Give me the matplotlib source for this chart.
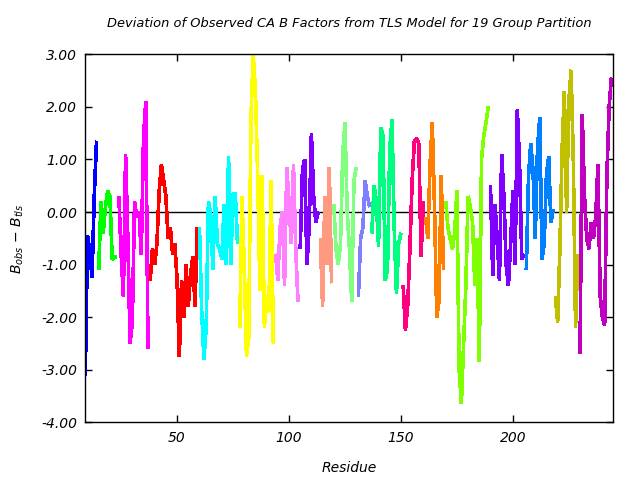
import matplotlib
matplotlib.use("Agg")
import matplotlib.pyplot as plt
import numpy as np

start_residue = 9
group_colors = ["#0000ff", "#00ff00", "#ff00ff", "#ff0000", "#00ffff", "#ffff00",
                "#ff80ff", "#8000ff", "#ff9980", "#80ff80", "#8080ff", "#00ff80",
                "#ff0080", "#ff8000", "#80ff00", "#8000ff", "#0080ff", "#c0c000",
                "#c000c0"]

g01 = [-3.1, -0.45, -0.75, -1.25, 0.3, 1.35]
g02 = [-1.1, 0.2, -0.4, 0.1, 0.4, 0.3, -0.9, -0.85, -0.85]
g03 = [0.3, -0.8, -1.6, 1.1, -0.5, -2.5, -2.1, 0.2, -0.1, 0.0, -0.8, 1.4, 2.1, -2.6]
g04 = [-1.3, -0.7, -1.0, -0.6, 0.4, 0.9, 0.6, 0.3, -0.5, -0.3, -0.8, -0.6, -1.3, -2.75,
       -1.3, -2.0, -1.0, -1.8, -1.2, -0.85, -1.8, -0.3]
g05 = [-0.3, -1.9, -2.8, -2.2, 0.2, -0.05, -1.1, 0.3, -0.6, -0.7, -0.9, 0.15, -1.0,
       1.05, -1.0, 0.35, 0.35, -0.6]
g06 = [-2.2, 0.3, -1.0, -2.75, -2.4, 1.8, 3.0, 2.3, 0.7, -1.5, 0.7, -2.2, -1.6, -1.9,
       0.6, -2.5]
g07 = [-0.8, -1.3, -0.3, 0.0, -1.4, 0.85, 0.2, -0.6, 0.9, -0.7, -1.7]
g08 = [-0.7, 0.8, 1.0, -1.0, -0.3, 1.5, 0.3, -0.2, 0.0]
g09 = [-0.5, -1.8, 0.3, -1.0, 0.85, -1.35]
g10 = [0.15, -0.7, -1.0, -0.6, 1.1, 1.7, 0.0, -0.7, -1.7, 0.6, 0.85]
g11 = [-1.6, -0.5, -0.3, 0.6, 0.3, 0.1]
g12 = [-0.4, 0.5, 0.2, -0.65, 1.6, 1.45, -1.3, -1.1, 1.2, 1.75, -0.3, -1.55, -0.6, -0.4]
g13 = [-1.4, -2.25, -1.8, -0.7, 0.6, 1.35, 1.4, 1.3, -0.85, 0.2]
g14 = [-0.1, -0.5, 0.9, 1.7, 0.1, -2.0, -1.7, 0.7, -1.1]
g15 = [0.2, -0.3, -0.5, -0.7, -0.4, 0.4, -3.0, -3.65, -2.5, -1.4, 0.3, 0.1, -0.2,
       -1.4, -0.5, -2.85, 1.0, 1.45, 1.7, 2.0]
g16 = [0.5, -1.2, 0.15, -0.5, -1.3, 1.1, 0.3, -1.0, -1.4, -0.6, 0.4, -1.0, 1.95, 0.9,
       -0.9, -0.8]
g17 = [-1.1, 0.7, 1.3, 0.8, -0.5, 1.2, 1.8, -0.9, -0.6, 0.7, 1.05, -0.2, 0.05]
g18 = [-1.6, -2.1, -0.7, 1.2, 2.3, 0.0, 2.1, 2.7, 1.0, -2.2, -0.8]
g19 = [-2.7, 1.85, 0.3, -0.5, -0.7, -0.2, -0.5, -0.1, 0.9, -1.6, -2.0, -2.15, 0.7,
       2.0, 2.55]

groups = [g01, g02, g03, g04, g05, g06, g07, g08, g09, g10, g11, g12, g13, g14,
          g15, g16, g17, g18, g19]

y_ticks = [-4, -3, -2, -1, 0, 1, 2, 3]
x_ticks = [50, 100, 150, 200]

fig = plt.figure(figsize=(6.4, 4.8), dpi=100)
ax = fig.add_axes([85.3 / 640, 1 - 422.3 / 480, (612.7 - 85.3) / 640, (422.3 - 54.3) / 480])

ax.axhline(0, color="black", lw=1.0, zorder=1)
pos = start_residue
for vals, col in zip(groups, group_colors):
    n = len(vals)
    x = np.arange(pos, pos + n)
    ax.plot(x, vals, color=col, lw=1.9, zorder=2, antialiased=False,
            solid_joinstyle="bevel", solid_capstyle="butt")
    pos += n

ax.set_xlim(9, 244.6)
ax.set_ylim(-4, 3)
ax.set_yticks(y_ticks)
ax.set_yticklabels(["%.2f" % v for v in y_ticks], fontstyle="italic", fontsize=10)
ax.set_xticks(x_ticks)
ax.set_xticklabels([str(v) for v in x_ticks], fontstyle="italic", fontsize=10)
ax.tick_params(direction="in", top=True, right=True, length=5, width=1, pad=6)
for s in ax.spines.values():
    s.set_linewidth(1.0)

ax.set_title("Deviation of Observed CA B Factors from TLS Model for 19 Group Partition",
             fontstyle="italic", fontsize=9.4, pad=20)
ax.set_xlabel("Residue", fontstyle="italic", fontsize=10, labelpad=12)
ax.set_ylabel(r"$B_{obs}$ $-$ $B_{tls}$", fontsize=10, labelpad=11)

fig.savefig("out.png", dpi=100)
